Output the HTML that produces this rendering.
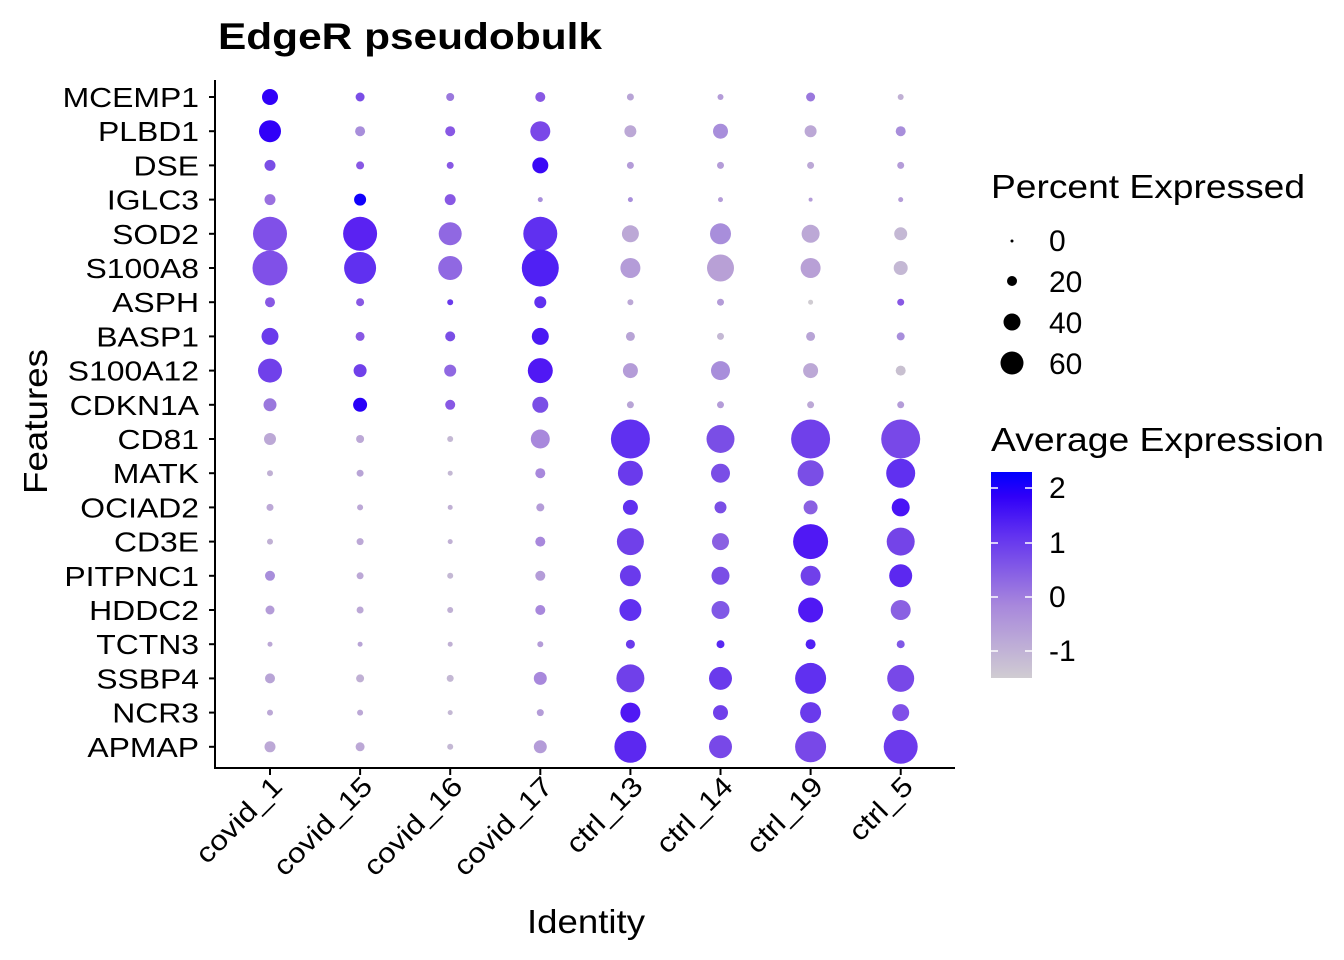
<!DOCTYPE html>
<html><head><meta charset="utf-8"><style>html,body{margin:0;padding:0;background:#fff}svg{display:block}text{font-family:"Liberation Sans",Arial,sans-serif;fill:#000}</style></head>
<body>
<svg id="s" width="1344" height="960" viewBox="0 0 1344 960" xmlns="http://www.w3.org/2000/svg">
<defs><linearGradient id="g" x1="0" y1="1" x2="0" y2="0">
<stop offset="0" stop-color="#d0ccd2"/><stop offset="0.35" stop-color="#a888dc"/><stop offset="0.7" stop-color="#6030f0"/><stop offset="0.88" stop-color="#3000f8"/><stop offset="1" stop-color="#0000ff"/></linearGradient></defs>
<text x="218" y="49" font-size="37" font-weight="bold" textLength="384" lengthAdjust="spacingAndGlyphs">EdgeR pseudobulk</text>
<g id="dots"></g>
<line x1="215" y1="80" x2="215" y2="769" stroke="#000" stroke-width="2"/>
<line x1="214" y1="768" x2="955" y2="768" stroke="#000" stroke-width="2"/>
<g id="ylab" font-size="27.5" text-anchor="end"></g>
<g id="xlab" font-size="27.5" text-anchor="end"></g>
<text x="527" y="933" font-size="33" textLength="118" lengthAdjust="spacingAndGlyphs">Identity</text>
<text transform="translate(47,494) rotate(-90)" font-size="33" textLength="145" lengthAdjust="spacingAndGlyphs">Features</text>
<text x="991" y="198" font-size="33.5" textLength="314" lengthAdjust="spacingAndGlyphs">Percent Expressed</text>
<circle cx="1012" cy="241" r="1.5"/><circle cx="1012" cy="281" r="5"/><circle cx="1012" cy="322" r="8.5"/><circle cx="1012" cy="363" r="11.5"/>
<g font-size="30"><text x="1049" y="251">0</text><text x="1049" y="292">20</text><text x="1049" y="333">40</text><text x="1049" y="374">60</text></g>
<text x="991" y="451" font-size="33.5" textLength="333" lengthAdjust="spacingAndGlyphs">Average Expression</text>
<rect x="991" y="472" width="41" height="206" fill="url(#g)"/>
<g stroke="#fff" stroke-width="1.5"><line x1="991" y1="488" x2="998" y2="488"/><line x1="1025" y1="488" x2="1032" y2="488"/><line x1="991" y1="543" x2="998" y2="543"/><line x1="1025" y1="543" x2="1032" y2="543"/><line x1="991" y1="597" x2="998" y2="597"/><line x1="1025" y1="597" x2="1032" y2="597"/><line x1="991" y1="651" x2="998" y2="651"/><line x1="1025" y1="651" x2="1032" y2="651"/></g>
<g font-size="30"><text x="1049" y="498">2</text><text x="1049" y="553">1</text><text x="1049" y="607">0</text><text x="1049" y="661">-1</text></g>
</svg>
<script>
var rows=["MCEMP1","PLBD1","DSE","IGLC3","SOD2","S100A8","ASPH","BASP1","S100A12","CDKN1A","CD81","MATK","OCIAD2","CD3E","PITPNC1","HDDC2","TCTN3","SSBP4","NCR3","APMAP"];
var cols=["covid_1","covid_15","covid_16","covid_17","ctrl_13","ctrl_14","ctrl_19","ctrl_5"];
var d=[
[[8,"#3000f8"],[4.5,"#7a4ee6"],[4,"#9a78dd"],[5,"#8858e4"],[3.5,"#b8a4d6"],[3,"#b49cd8"],[4.5,"#9a78dd"],[3,"#c0b0d4"]],
[[11,"#3000f8"],[5,"#a88edb"],[5,"#8858e4"],[10,"#7a48e8"],[6,"#bca8d6"],[7.5,"#a88edb"],[6,"#bca8d6"],[5,"#a88edb"]],
[[5.5,"#7a4ee6"],[4,"#8858e4"],[3.5,"#8858e4"],[8,"#3a08f6"],[3.5,"#b49cd8"],[3.5,"#b49cd8"],[3.5,"#bca8d6"],[3.5,"#b49cd8"]],
[[5.5,"#9a70e0"],[6,"#1000fc"],[5.5,"#8858e4"],[2.5,"#a88edb"],[2.5,"#a88edb"],[2.5,"#b49cd8"],[2,"#b49cd8"],[2.5,"#b49cd8"]],
[[17,"#8050e8"],[17,"#5a22f2"],[11.5,"#9068e2"],[17,"#6030f0"],[8.5,"#bca8d6"],[10.5,"#a88edb"],[9,"#bca8d6"],[6.5,"#c4b8d4"]],
[[17.5,"#8050e8"],[16,"#6030f0"],[12,"#9068e2"],[18.5,"#5020f4"],[10,"#b49cd8"],[13.5,"#b8a0d6"],[10,"#b8a0d6"],[7,"#c4b8d4"]],
[[5,"#8858e4"],[4,"#8858e4"],[3,"#6a3aec"],[6,"#6030f0"],[3,"#bca8d6"],[3.5,"#b49cd8"],[2.5,"#d0ccd2"],[3.5,"#8858e4"]],
[[8.5,"#6a3aec"],[4.5,"#8858e4"],[5,"#7a4ee6"],[8.5,"#4a18f4"],[4.5,"#b8a4d6"],[3.5,"#c4b8d4"],[4.5,"#b8a4d6"],[4,"#a88edb"]],
[[12,"#7040ea"],[6.5,"#7040ea"],[6,"#9068e2"],[12.5,"#5018f4"],[7.5,"#b49cd8"],[9.5,"#a88edb"],[7.5,"#bca8d6"],[5,"#c8c0d0"]],
[[6.5,"#9a78dd"],[7,"#2800f8"],[5,"#8858e4"],[8,"#7a4ee6"],[3.5,"#b8a4d6"],[3.5,"#b49cd8"],[3.5,"#bca8d6"],[3.5,"#b49cd8"]],
[[6,"#bca8d6"],[4,"#bca8d6"],[3,"#c4b8d4"],[9.5,"#a888dc"],[19.5,"#6030f0"],[14,"#7a4ee6"],[19.5,"#7040ea"],[19.5,"#7848e8"]],
[[3,"#c0b0d4"],[3.5,"#b8a4d6"],[2.5,"#c4b8d4"],[5,"#a888dc"],[12.5,"#6a3aec"],[9.5,"#7a4ee6"],[13,"#7a4ee6"],[14.5,"#6030f0"]],
[[3.5,"#bca8d6"],[3,"#bca8d6"],[2.5,"#c0b0d4"],[4,"#b49cd8"],[7.5,"#6030f0"],[6,"#7a4ee6"],[7,"#8a60e2"],[9,"#4a14f6"]],
[[3,"#c0b0d4"],[3.5,"#bca8d6"],[2.5,"#c0b0d4"],[5,"#a888dc"],[13.5,"#7040ea"],[8.5,"#8a60e2"],[17.5,"#5018f4"],[14,"#7444e8"]],
[[5,"#a88edb"],[3.5,"#bca8d6"],[3,"#c4b8d4"],[5,"#b49cd8"],[10.5,"#6a3aec"],[9,"#7a4ee6"],[10,"#7040ea"],[11.5,"#5c28f0"]],
[[4.5,"#b49cd8"],[3.5,"#bca8d6"],[3,"#c0b0d4"],[5,"#a888dc"],[11,"#6030f0"],[9,"#8058e6"],[12.5,"#5018f4"],[10,"#8a60e2"]],
[[2.5,"#bca8d6"],[2.5,"#b8a4d6"],[2.5,"#c0b0d4"],[3,"#b49cd8"],[4.5,"#6a3aec"],[4,"#5828f2"],[5,"#5020f4"],[4,"#8058e6"]],
[[5,"#b8a4d6"],[4,"#c0b0d4"],[3.5,"#c4b8d4"],[6.5,"#a888dc"],[14,"#7040ea"],[11.5,"#6a3aec"],[15.5,"#6030f0"],[13.5,"#7848e8"]],
[[3,"#bca8d6"],[3,"#bca8d6"],[2.5,"#c4b8d4"],[3.5,"#b49cd8"],[10,"#5018f4"],[7.5,"#7040ea"],[10.5,"#6a3aec"],[8.5,"#8050e8"]],
[[5.5,"#bca8d6"],[4.5,"#bca8d6"],[3,"#c4b8d4"],[6.5,"#b49cd8"],[16,"#5c28f0"],[11.5,"#7848e8"],[15.5,"#7848e8"],[17,"#6c3aec"]]];
var ns="http://www.w3.org/2000/svg",g=document.getElementById("dots"),yl=document.getElementById("ylab"),xl=document.getElementById("xlab"),s=document.getElementById("s");
function el(t,a,p){var e=document.createElementNS(ns,t);for(var k in a)e.setAttribute(k,a[k]);p.appendChild(e);return e;}
for(var i=0;i<20;i++){var y=97+i*34.2;
 for(var j=0;j<8;j++){var x=270+j*90.1;el("circle",{cx:x,cy:y,r:d[i][j][0],fill:d[i][j][1]},g);}
 var t=el("text",{transform:"translate(199,"+(y+10)+") scale(1.16,1)"},yl);t.textContent=rows[i];
 el("line",{x1:209,y1:y,x2:215,y2:y,stroke:"#000","stroke-width":2},s);}
for(var j=0;j<8;j++){var x=270+j*90.1;el("line",{x1:x,y1:768,x2:x,y2:775,stroke:"#000","stroke-width":2},s);
 var t=el("text",{transform:"translate("+(x+14)+",788) rotate(-45) scale(1.15,1)"},xl);t.textContent=cols[j];}
</script>
</body></html>
